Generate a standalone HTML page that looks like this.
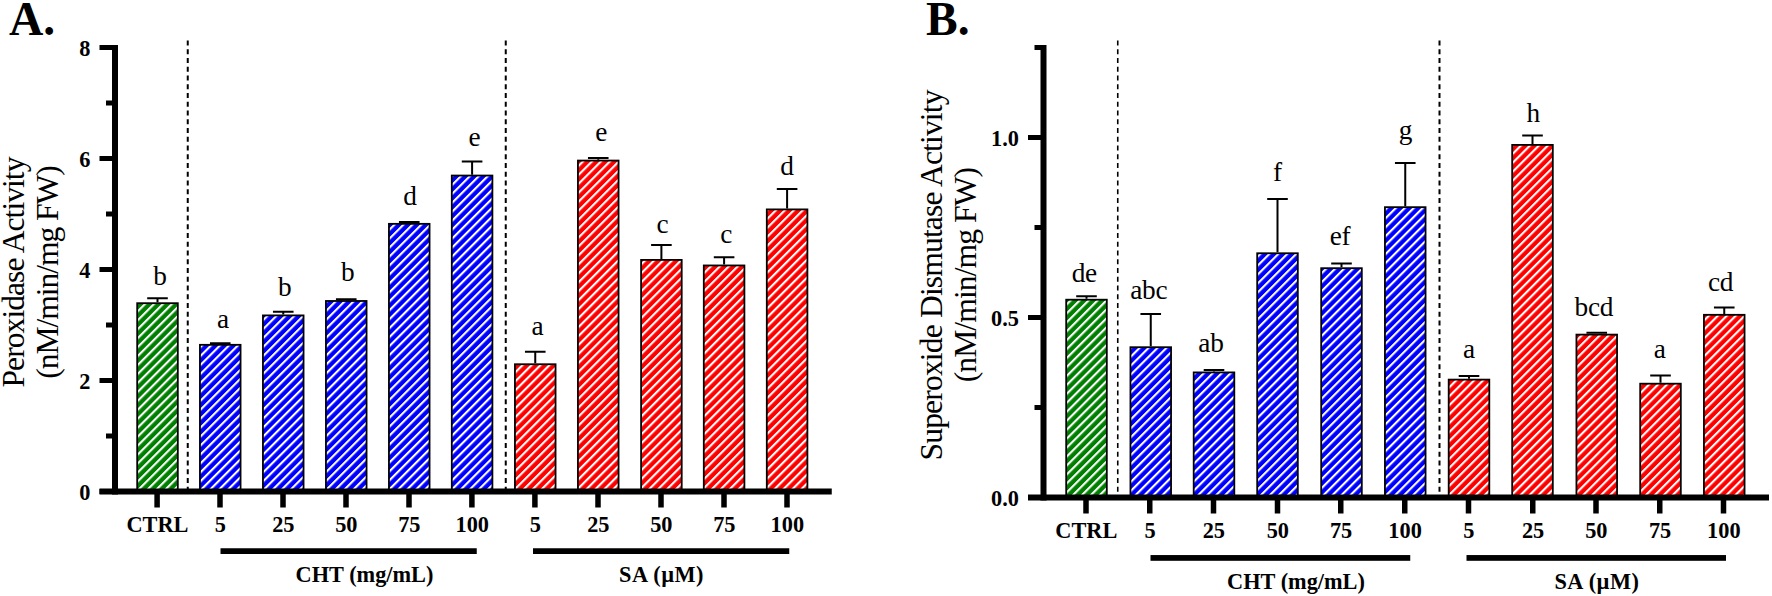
<!DOCTYPE html>
<html lang="en"><head><meta charset="utf-8"><title>Peroxidase and Superoxide Dismutase Activity</title>
<style>
html,body{margin:0;padding:0;background:#fff;}
body{width:1772px;height:596px;overflow:hidden;}
svg{display:block;}
text{font-family:"Liberation Serif", "Times New Roman", serif;fill:#000;}
.b{font-weight:bold;}
.tk{font-weight:bold;font-size:23.5px;}
.lt{font-size:27.3px;}
.yl{font-size:31.6px;}
.pn{font-weight:bold;font-size:47.5px;}
</style></head><body>
<svg width="1772" height="596" viewBox="0 0 1772 596">
<defs>
<pattern id="hg" patternUnits="userSpaceOnUse" width="6.33" height="6.33" patternTransform="rotate(45)"><rect x="0" y="0" width="6.33" height="6.33" fill="#008000"/><rect x="0" y="0" width="2.1" height="6.33" fill="#fff"/></pattern>
<pattern id="hbl" patternUnits="userSpaceOnUse" width="6.33" height="6.33" patternTransform="rotate(45)"><rect x="0" y="0" width="6.33" height="6.33" fill="#0000ff"/><rect x="0" y="0" width="2.1" height="6.33" fill="#fff"/></pattern>
<pattern id="hr" patternUnits="userSpaceOnUse" width="6.33" height="6.33" patternTransform="rotate(45)"><rect x="0" y="0" width="6.33" height="6.33" fill="#ff0000"/><rect x="0" y="0" width="2.1" height="6.33" fill="#fff"/></pattern>
</defs>
<rect x="0" y="0" width="1772" height="596" fill="#fff"/>
<line x1="187.75" y1="40.4" x2="187.75" y2="491.5" stroke="#000" stroke-width="2.0" stroke-dasharray="5 3.75"/>
<line x1="505.75" y1="40.4" x2="505.75" y2="491.5" stroke="#000" stroke-width="2.0" stroke-dasharray="5 3.75"/>
<rect x="137.20" y="303.20" width="40.60" height="189.20" fill="url(#hg)" stroke="#000" stroke-width="1.8"/>
<path d="M157.50 302.30V298.36M147.20 298.36H167.80" stroke="#000" stroke-width="2" fill="none"/>
<text class="lt" x="160.00" y="284.80" text-anchor="middle">b</text>
<rect x="199.95" y="344.82" width="40.60" height="147.57" fill="url(#hbl)" stroke="#000" stroke-width="1.8"/>
<path d="M220.25 343.93V343.31M209.95 343.31H230.55" stroke="#000" stroke-width="2" fill="none"/>
<text class="lt" x="222.95" y="328.00" text-anchor="middle">a</text>
<rect x="262.95" y="315.41" width="40.60" height="176.99" fill="url(#hbl)" stroke="#000" stroke-width="1.8"/>
<path d="M283.25 314.51V311.68M272.95 311.68H293.55" stroke="#000" stroke-width="2" fill="none"/>
<text class="lt" x="284.75" y="296.10" text-anchor="middle">b</text>
<rect x="325.95" y="300.98" width="40.60" height="191.42" fill="url(#hbl)" stroke="#000" stroke-width="1.8"/>
<path d="M346.25 300.08V299.19M335.95 299.19H356.55" stroke="#000" stroke-width="2" fill="none"/>
<text class="lt" x="347.75" y="280.90" text-anchor="middle">b</text>
<rect x="388.95" y="223.84" width="40.60" height="268.56" fill="url(#hbl)" stroke="#000" stroke-width="1.8"/>
<path d="M409.25 222.94V222.05M398.95 222.05H419.55" stroke="#000" stroke-width="2" fill="none"/>
<text class="lt" x="410.15" y="205.00" text-anchor="middle">d</text>
<rect x="451.80" y="175.55" width="40.60" height="316.85" fill="url(#hbl)" stroke="#000" stroke-width="1.8"/>
<path d="M472.10 174.65V161.55M461.80 161.55H482.40" stroke="#000" stroke-width="2" fill="none"/>
<text class="lt" x="474.45" y="146.00" text-anchor="middle">e</text>
<rect x="514.95" y="364.25" width="40.60" height="128.15" fill="url(#hr)" stroke="#000" stroke-width="1.8"/>
<path d="M535.25 363.35V351.64M524.95 351.64H545.55" stroke="#000" stroke-width="2" fill="none"/>
<text class="lt" x="537.55" y="334.50" text-anchor="middle">a</text>
<rect x="577.95" y="160.57" width="40.60" height="331.83" fill="url(#hr)" stroke="#000" stroke-width="1.8"/>
<path d="M598.25 159.67V157.94M587.95 157.94H608.55" stroke="#000" stroke-width="2" fill="none"/>
<text class="lt" x="601.25" y="141.00" text-anchor="middle">e</text>
<rect x="641.10" y="259.91" width="40.60" height="232.49" fill="url(#hr)" stroke="#000" stroke-width="1.8"/>
<path d="M661.40 259.01V245.08M651.10 245.08H671.70" stroke="#000" stroke-width="2" fill="none"/>
<text class="lt" x="662.50" y="232.50" text-anchor="middle">c</text>
<rect x="703.80" y="265.46" width="40.60" height="226.94" fill="url(#hr)" stroke="#000" stroke-width="1.8"/>
<path d="M724.10 264.56V257.29M713.80 257.29H734.40" stroke="#000" stroke-width="2" fill="none"/>
<text class="lt" x="726.35" y="242.80" text-anchor="middle">c</text>
<rect x="766.80" y="209.41" width="40.60" height="283.00" fill="url(#hr)" stroke="#000" stroke-width="1.8"/>
<path d="M787.10 208.50V189.02M776.80 189.02H797.40" stroke="#000" stroke-width="2" fill="none"/>
<text class="lt" x="787.10" y="175.25" text-anchor="middle">d</text>
<rect x="112" y="45" width="6" height="449.5" fill="#000"/>
<rect x="99.5" y="488.5" width="732.25" height="6" fill="#000"/>
<rect x="99.5" y="489.00" width="13.5" height="5" fill="#000"/>
<text class="tk" transform="translate(90.50 499.80) scale(0.95 1)" text-anchor="end">0</text>
<rect x="106" y="433.50" width="7" height="5" fill="#000"/>
<rect x="99.5" y="378.00" width="13.5" height="5" fill="#000"/>
<text class="tk" transform="translate(90.50 388.80) scale(0.95 1)" text-anchor="end">2</text>
<rect x="106" y="322.50" width="7" height="5" fill="#000"/>
<rect x="99.5" y="267.00" width="13.5" height="5" fill="#000"/>
<text class="tk" transform="translate(90.50 277.80) scale(0.95 1)" text-anchor="end">4</text>
<rect x="106" y="211.50" width="7" height="5" fill="#000"/>
<rect x="99.5" y="156.00" width="13.5" height="5" fill="#000"/>
<text class="tk" transform="translate(90.50 166.80) scale(0.95 1)" text-anchor="end">6</text>
<rect x="106" y="100.50" width="7" height="5" fill="#000"/>
<rect x="99.5" y="45.00" width="13.5" height="5" fill="#000"/>
<text class="tk" transform="translate(90.50 55.80) scale(0.95 1)" text-anchor="end">8</text>
<rect x="154.35" y="493.5" width="5.5" height="14" fill="#000"/>
<text class="tk" transform="translate(157.40 532.10) scale(0.95 1)" text-anchor="middle">CTRL</text>
<rect x="217.25" y="493.5" width="5.5" height="14" fill="#000"/>
<text class="tk" transform="translate(220.30 532.10) scale(0.95 1)" text-anchor="middle">5</text>
<rect x="280.25" y="493.5" width="5.5" height="14" fill="#000"/>
<text class="tk" transform="translate(283.30 532.10) scale(0.95 1)" text-anchor="middle">25</text>
<rect x="343.25" y="493.5" width="5.5" height="14" fill="#000"/>
<text class="tk" transform="translate(346.30 532.10) scale(0.95 1)" text-anchor="middle">50</text>
<rect x="406.25" y="493.5" width="5.5" height="14" fill="#000"/>
<text class="tk" transform="translate(409.30 532.10) scale(0.95 1)" text-anchor="middle">75</text>
<rect x="469.15" y="493.5" width="5.5" height="14" fill="#000"/>
<text class="tk" transform="translate(472.20 532.10) scale(0.95 1)" text-anchor="middle">100</text>
<rect x="532.15" y="493.5" width="5.5" height="14" fill="#000"/>
<text class="tk" transform="translate(535.20 532.10) scale(0.95 1)" text-anchor="middle">5</text>
<rect x="595.25" y="493.5" width="5.5" height="14" fill="#000"/>
<text class="tk" transform="translate(598.30 532.10) scale(0.95 1)" text-anchor="middle">25</text>
<rect x="658.25" y="493.5" width="5.5" height="14" fill="#000"/>
<text class="tk" transform="translate(661.30 532.10) scale(0.95 1)" text-anchor="middle">50</text>
<rect x="721.25" y="493.5" width="5.5" height="14" fill="#000"/>
<text class="tk" transform="translate(724.30 532.10) scale(0.95 1)" text-anchor="middle">75</text>
<rect x="784.25" y="493.5" width="5.5" height="14" fill="#000"/>
<text class="tk" transform="translate(787.30 532.10) scale(0.95 1)" text-anchor="middle">100</text>
<rect x="220.5" y="548.25" width="256.25" height="5.75" fill="#000"/>
<text class="tk" transform="translate(364.50 582.00) scale(0.95 1)" text-anchor="middle">CHT (mg/mL)</text>
<rect x="533" y="548.25" width="256.25" height="5.75" fill="#000"/>
<text class="tk" transform="translate(661.50 582.00) scale(0.95 1)" text-anchor="middle" letter-spacing="0.5">SA (µM)</text>
<text class="yl" transform="translate(23.8 272.0) rotate(-90)" text-anchor="middle" textLength="231" lengthAdjust="spacing">Peroxidase Activity</text>
<text class="yl" transform="translate(57.8 271.9) rotate(-90)" text-anchor="middle" textLength="213.5" lengthAdjust="spacing">(nM/min/mg FW)</text>
<text class="pn" x="9" y="35">A.</text>
<line x1="1117.75" y1="40.4" x2="1117.75" y2="497.5" stroke="#000" stroke-width="1.6" stroke-dasharray="5 3.75"/>
<line x1="1439.5" y1="40.4" x2="1439.5" y2="497.5" stroke="#000" stroke-width="2.0" stroke-dasharray="5 3.75"/>
<rect x="1066.20" y="299.70" width="40.60" height="198.70" fill="url(#hg)" stroke="#000" stroke-width="1.8"/>
<path d="M1086.50 298.80V296.26M1076.20 296.26H1096.80" stroke="#000" stroke-width="2" fill="none"/>
<text class="lt" x="1084.25" y="281.85" text-anchor="middle" letter-spacing="-0.3">de</text>
<rect x="1130.45" y="347.22" width="40.60" height="151.18" fill="url(#hbl)" stroke="#000" stroke-width="1.8"/>
<path d="M1150.75 346.32V313.90M1140.45 313.90H1161.05" stroke="#000" stroke-width="2" fill="none"/>
<text class="lt" x="1148.80" y="299.10" text-anchor="middle" letter-spacing="-0.3">abc</text>
<rect x="1193.70" y="372.42" width="40.60" height="125.98" fill="url(#hbl)" stroke="#000" stroke-width="1.8"/>
<path d="M1214.00 371.52V370.06M1203.70 370.06H1224.30" stroke="#000" stroke-width="2" fill="none"/>
<text class="lt" x="1210.95" y="352.10" text-anchor="middle" letter-spacing="-0.3">ab</text>
<rect x="1257.20" y="253.26" width="40.60" height="245.14" fill="url(#hbl)" stroke="#000" stroke-width="1.8"/>
<path d="M1277.50 252.36V199.06M1267.20 199.06H1287.80" stroke="#000" stroke-width="2" fill="none"/>
<text class="lt" x="1277.50" y="181.35" text-anchor="middle">f</text>
<rect x="1321.20" y="268.20" width="40.60" height="230.20" fill="url(#hbl)" stroke="#000" stroke-width="1.8"/>
<path d="M1341.50 267.30V263.50M1331.20 263.50H1351.80" stroke="#000" stroke-width="2" fill="none"/>
<text class="lt" x="1340.05" y="244.70" text-anchor="middle" letter-spacing="-0.3">ef</text>
<rect x="1384.95" y="207.18" width="40.60" height="291.22" fill="url(#hbl)" stroke="#000" stroke-width="1.8"/>
<path d="M1405.25 206.28V163.06M1394.95 163.06H1415.55" stroke="#000" stroke-width="2" fill="none"/>
<text class="lt" x="1405.65" y="139.35" text-anchor="middle">g</text>
<rect x="1448.70" y="379.62" width="40.60" height="118.78" fill="url(#hr)" stroke="#000" stroke-width="1.8"/>
<path d="M1469.00 378.72V376.00M1458.70 376.00H1479.30" stroke="#000" stroke-width="2" fill="none"/>
<text class="lt" x="1469.00" y="358.00" text-anchor="middle">a</text>
<rect x="1512.20" y="144.90" width="40.60" height="353.50" fill="url(#hr)" stroke="#000" stroke-width="1.8"/>
<path d="M1532.50 144.00V135.48M1522.20 135.48H1542.80" stroke="#000" stroke-width="2" fill="none"/>
<text class="lt" x="1533.30" y="121.75" text-anchor="middle">h</text>
<rect x="1576.45" y="334.62" width="40.60" height="163.78" fill="url(#hr)" stroke="#000" stroke-width="1.8"/>
<path d="M1596.75 333.72V332.80M1586.45 332.80H1607.05" stroke="#000" stroke-width="2" fill="none"/>
<text class="lt" x="1593.80" y="315.85" text-anchor="middle" letter-spacing="-0.3">bcd</text>
<rect x="1640.20" y="383.69" width="40.60" height="114.71" fill="url(#hr)" stroke="#000" stroke-width="1.8"/>
<path d="M1660.50 382.79V375.46M1650.20 375.46H1670.80" stroke="#000" stroke-width="2" fill="none"/>
<text class="lt" x="1659.80" y="358.00" text-anchor="middle">a</text>
<rect x="1703.95" y="314.82" width="40.60" height="183.58" fill="url(#hr)" stroke="#000" stroke-width="1.8"/>
<path d="M1724.25 313.92V307.42M1713.95 307.42H1734.55" stroke="#000" stroke-width="2" fill="none"/>
<text class="lt" x="1720.50" y="291.10" text-anchor="middle" letter-spacing="-0.3">cd</text>
<rect x="1040.5" y="45" width="6" height="455.5" fill="#000"/>
<rect x="1028.0" y="494.5" width="741.0" height="6" fill="#000"/>
<rect x="1028.0" y="495.00" width="13.5" height="5" fill="#000"/>
<text class="tk" transform="translate(1019.00 505.80) scale(0.95 1)" text-anchor="end">0.0</text>
<rect x="1034.5" y="405.00" width="7" height="5" fill="#000"/>
<rect x="1028.0" y="315.00" width="13.5" height="5" fill="#000"/>
<text class="tk" transform="translate(1019.00 325.80) scale(0.95 1)" text-anchor="end">0.5</text>
<rect x="1034.5" y="225.00" width="7" height="5" fill="#000"/>
<rect x="1028.0" y="135.00" width="13.5" height="5" fill="#000"/>
<text class="tk" transform="translate(1019.00 145.80) scale(0.95 1)" text-anchor="end">1.0</text>
<rect x="1034.5" y="45.00" width="7" height="5" fill="#000"/>
<rect x="1083.25" y="499.5" width="5.5" height="14" fill="#000"/>
<text class="tk" transform="translate(1086.30 538.10) scale(0.95 1)" text-anchor="middle">CTRL</text>
<rect x="1147.00" y="499.5" width="5.5" height="14" fill="#000"/>
<text class="tk" transform="translate(1150.05 538.10) scale(0.95 1)" text-anchor="middle">5</text>
<rect x="1210.75" y="499.5" width="5.5" height="14" fill="#000"/>
<text class="tk" transform="translate(1213.80 538.10) scale(0.95 1)" text-anchor="middle">25</text>
<rect x="1274.75" y="499.5" width="5.5" height="14" fill="#000"/>
<text class="tk" transform="translate(1277.80 538.10) scale(0.95 1)" text-anchor="middle">50</text>
<rect x="1338.00" y="499.5" width="5.5" height="14" fill="#000"/>
<text class="tk" transform="translate(1341.05 538.10) scale(0.95 1)" text-anchor="middle">75</text>
<rect x="1402.00" y="499.5" width="5.5" height="14" fill="#000"/>
<text class="tk" transform="translate(1405.05 538.10) scale(0.95 1)" text-anchor="middle">100</text>
<rect x="1465.75" y="499.5" width="5.5" height="14" fill="#000"/>
<text class="tk" transform="translate(1468.80 538.10) scale(0.95 1)" text-anchor="middle">5</text>
<rect x="1530.00" y="499.5" width="5.5" height="14" fill="#000"/>
<text class="tk" transform="translate(1533.05 538.10) scale(0.95 1)" text-anchor="middle">25</text>
<rect x="1593.25" y="499.5" width="5.5" height="14" fill="#000"/>
<text class="tk" transform="translate(1596.30 538.10) scale(0.95 1)" text-anchor="middle">50</text>
<rect x="1657.00" y="499.5" width="5.5" height="14" fill="#000"/>
<text class="tk" transform="translate(1660.05 538.10) scale(0.95 1)" text-anchor="middle">75</text>
<rect x="1720.75" y="499.5" width="5.5" height="14" fill="#000"/>
<text class="tk" transform="translate(1723.80 538.10) scale(0.95 1)" text-anchor="middle">100</text>
<rect x="1150.5" y="555.05" width="259.75" height="5.75" fill="#000"/>
<text class="tk" transform="translate(1296.00 589.00) scale(0.95 1)" text-anchor="middle">CHT (mg/mL)</text>
<rect x="1466.5" y="555.05" width="259.5" height="5.75" fill="#000"/>
<text class="tk" transform="translate(1596.90 589.00) scale(0.95 1)" text-anchor="middle" letter-spacing="0.5">SA (µM)</text>
<text class="yl" transform="translate(941.8 275.0) rotate(-90)" text-anchor="middle" textLength="371" lengthAdjust="spacing">Superoxide Dismutase Activity</text>
<text class="yl" transform="translate(976 274.6) rotate(-90)" text-anchor="middle" textLength="215.5" lengthAdjust="spacing">(nM/min/mg FW)</text>
<text class="pn" x="926" y="35">B.</text>
</svg></body></html>
